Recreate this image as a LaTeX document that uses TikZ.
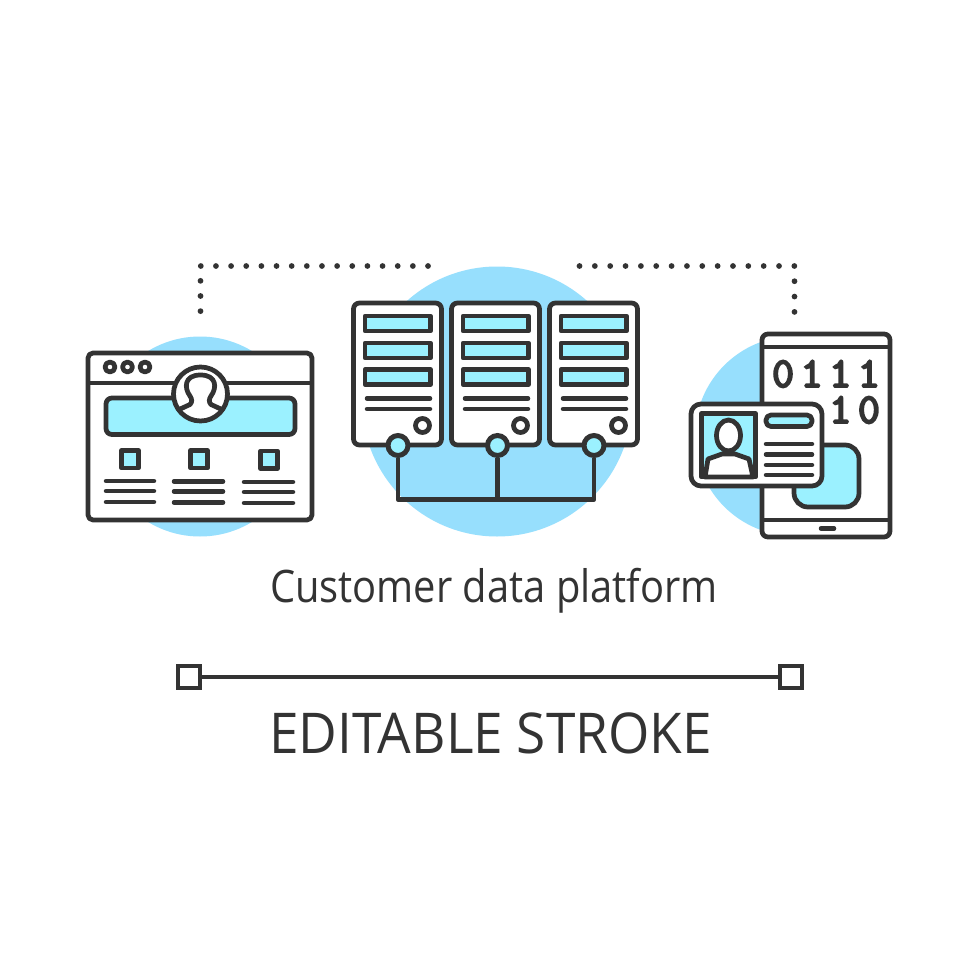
\documentclass[tikz,border=0pt]{standalone}
\usepackage{fontspec}
\setmainfont{Open Sans}
\newfontfamily\digitfont[FakeBold=5]{Latin Modern Mono}
\newfontfamily\titlefont[FakeStretch=0.89]{Open Sans}
\newfontfamily\strokefont[FakeStretch=0.945]{Open Sans}
\usepackage{tikz}
\usetikzlibrary{calc}
\definecolor{ink}{HTML}{333333}
\definecolor{disc}{HTML}{97DFFD}
\definecolor{aqua}{HTML}{9BF1FF}
\newcommand{\dgt}[1]{\makebox[16.3pt]{#1}}
\tikzset{
  outline/.style={draw=ink,line width=0.095cm,line join=round},
  textline/.style={draw=ink,line width=0.09cm,line cap=round},
  dotline/.style={draw=ink,line width=0.115cm,line cap=round,dash pattern=on 0pt off #1},
  port/.style={circle,draw=ink,fill=aqua,line width=0.1cm,inner sep=0pt,minimum size=0.4cm},
  handle/.style={rectangle,draw=ink,fill=white,line width=0.09cm,inner sep=0pt,minimum size=0.44cm},
  digits/.style={text=ink,inner sep=0pt,align=right,font=\fontsize{24}{20.5}\digitfont}
}
\begin{document}
\begin{tikzpicture}[x=0.02cm,y=-0.02cm]
  \useasboundingbox (0,0) rectangle (980,980);
  \fill[white] (0,0) rectangle (980,980);
  \fill[disc] (200,436.5) circle (100);
  \fill[disc] (497,401.5) circle (135);
  \begin{scope}
    \clip (690,330) rectangle (775,540);
    \fill[disc] (795,436) circle (100);
  \end{scope}
  % dotted links
  \coordinate (la) at (428,266);
  \coordinate (lb) at (200.5,266);
  \coordinate (lc) at (200.5,312);
  \coordinate (ra) at (579.5,266);
  \coordinate (rb) at (794.5,266);
  \coordinate (rc) at (794.5,312);
  \draw[dotline=0.303cm] (la) -- (lb) -- (lc);
  \draw[dotline=0.307cm] (ra) -- (rb) -- (rc);
  % browser window
  \draw[outline,fill=white,rounded corners=0.1cm] (88,353) rectangle (312,520);
  \draw[outline] (88,383) -- (312,383);
  \draw[outline] (110,367) circle (5) (127.5,367) circle (5) (145,367) circle (5);
  \draw[outline,fill=aqua,rounded corners=0.12cm] (106,398) rectangle (295,434.5);
  \draw[outline,fill=white] (200.5,394) circle (27);
  \draw[outline] (178,410) -- (190,404.5)
    .. controls (192.5,402) and (192,399) .. (190,396)
    .. controls (184,388) and (184,375) .. (200.5,375)
    .. controls (217,375) and (217,388) .. (211,396)
    .. controls (209,399) and (208.5,402) .. (211,404.5) -- (223,410);
  \draw[outline,fill=aqua] (121.5,450.5) rectangle (138.5,468);
  \draw[outline,fill=aqua] (190.5,450.5) rectangle (207.5,468);
  \draw[outline,fill=aqua] (260.5,451) rectangle (277.5,468.5);
  \draw[textline] (106,481) -- (154,481) (106,491) -- (154,491) (106,502) -- (154,502);
  \draw[textline] (174,481.5) -- (223,481.5) (174,491.5) -- (223,491.5) (174,502.5) -- (223,502.5);
  \draw[textline] (244,482) -- (293,482) (244,492) -- (293,492) (244,503) -- (293,503);
  % servers
  \draw[outline,fill=white,rounded corners=0.12cm] (353.5,303) rectangle (441.5,445);
  \draw[outline,fill=white,rounded corners=0.12cm] (451.5,303) rectangle (539.5,445);
  \draw[outline,fill=white,rounded corners=0.12cm] (549.5,303) rectangle (637.5,445);
  \draw[outline,fill=aqua] (365,316) rectangle (430.5,331) (365,343) rectangle (430.5,358) (365,369.5) rectangle (430.5,384.5);
  \draw[outline,fill=aqua] (463,316) rectangle (528.5,331) (463,343) rectangle (528.5,358) (463,369.5) rectangle (528.5,384.5);
  \draw[outline,fill=aqua] (561,316) rectangle (626.5,331) (561,343) rectangle (626.5,358) (561,369.5) rectangle (626.5,384.5);
  \draw[textline] (367,398.5) -- (430,398.5) (367,409) -- (430,409);
  \draw[textline] (465,398.5) -- (528,398.5) (465,409) -- (528,409);
  \draw[textline] (563,398.5) -- (626,398.5) (563,409) -- (626,409);
  \draw[outline] (422.5,425.5) circle (7) (520.5,425.5) circle (7) (618.5,425.5) circle (7);
  \coordinate (busa) at (398,499.5);
  \coordinate (busb) at (497.5,499.5);
  \coordinate (busc) at (594,499.5);
  \node[port] (pa) at (398,445.5) {};
  \node[port] (pb) at (497.5,445.5) {};
  \node[port] (pc) at (594,445.5) {};
  \draw[outline] (pa) -- (busa) -- (busc) -- (pc);
  \draw[outline] (pb) -- (busb);
  % tablet
  \draw[outline,fill=white,rounded corners=0.12cm] (762,334) rectangle (890,537);
  \draw[outline] (762,347) -- (890,347) (762,520) -- (890,520);
  \draw[textline] (821,528.5) -- (834,528.5);
  \node[digits] (bits) at (826,392) {\dgt{0}\dgt{1}\dgt{1}\dgt{1}\\\dgt{1}\dgt{0}};
  \draw[outline,fill=aqua,rounded corners=0.28cm] (794,445) rectangle (859,507);
  % id card
  \draw[outline,fill=white,rounded corners=0.2cm] (691,404) rectangle (822,486);
  \draw[outline,fill=aqua] (701.5,413.5) rectangle (755.5,477);
  \draw[outline,fill=white] (705,477) -- (708,459) -- (722,454) -- (735,454) -- (749,459) -- (753,477) -- cycle;
  \draw[outline,fill=white] (728.5,435.5) ellipse (12 and 15.5);
  \draw[outline,fill=aqua,rounded corners=0.1cm] (766,415) rectangle (812,426.5);
  \draw[textline] (766,444) -- (812,444) (766,454.5) -- (812,454.5) (766,465) -- (812,465) (766,475) -- (812,475);
  % caption
  \node[text=ink,inner sep=0pt,font=\fontsize{25.5}{25.5}\titlefont] (title) at (494,590.5) {Customer data platform};
  \node[handle] (ha) at (189,677) {};
  \node[handle] (hb) at (791,677) {};
  \draw[outline] (ha) -- (hb);
  \node[text=ink,inner sep=0pt,font=\fontsize{32}{32}\strokefont] (stroke) at (490.5,733) {EDITABLE STROKE};
\end{tikzpicture}
\end{document}
